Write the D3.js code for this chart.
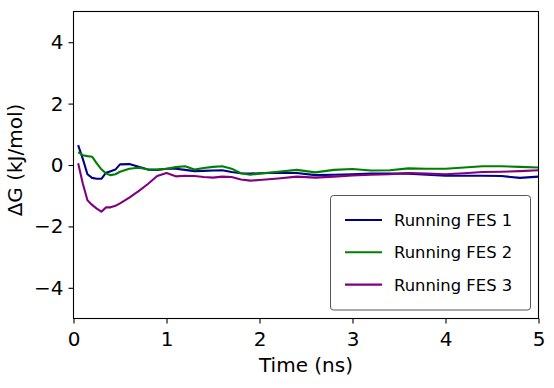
<!DOCTYPE html>
<html>
<head>
<meta charset="utf-8">
<script src="https://cdn.jsdelivr.net/npm/d3@7"></script>
<style>
  body { margin: 0; background: #fff; }
  svg text { font-family: "DejaVu Sans", sans-serif; fill: #000; }
</style>
</head>
<body>
<svg id="chartSVG" width="554" height="388"></svg>
<script>
// time (ns) and running free energy estimates (kJ/mol)
var times = [0.05, 0.1, 0.15, 0.2, 0.25, 0.3, 0.35, 0.4, 0.45, 0.5,
             0.6, 0.7, 0.8, 0.9, 1.0, 1.1, 1.2, 1.3, 1.4, 1.5,
             1.6, 1.7, 1.8, 1.9, 2.0, 2.2, 2.4, 2.6, 2.8, 3.0,
             3.2, 3.4, 3.6, 3.8, 4.0, 4.2, 4.4, 4.6, 4.8, 5.0];
var fes1 = [0.65, 0.2, -0.3, -0.42, -0.45, -0.45, -0.25, -0.2, -0.15, 0.02,
            0.03, -0.06, -0.15, -0.16, -0.12, -0.12, -0.16, -0.2, -0.19, -0.18,
            -0.17, -0.23, -0.27, -0.28, -0.27, -0.25, -0.26, -0.33, -0.32, -0.3,
            -0.28, -0.28, -0.28, -0.32, -0.35, -0.35, -0.35, -0.36, -0.42, -0.38];
var fes2 = [0.42, 0.32, 0.29, 0.27, 0.05, -0.14, -0.28, -0.33, -0.3, -0.22,
            -0.12, -0.09, -0.14, -0.15, -0.12, -0.07, -0.04, -0.15, -0.1, -0.06,
            -0.04, -0.12, -0.27, -0.32, -0.28, -0.22, -0.16, -0.24, -0.16, -0.13,
            -0.18, -0.17, -0.11, -0.12, -0.12, -0.08, -0.04, -0.04, -0.06, -0.08];
var fes3 = [0.06, -0.6, -1.15, -1.3, -1.42, -1.52, -1.38, -1.38, -1.33, -1.25,
            -1.06, -0.85, -0.62, -0.36, -0.26, -0.37, -0.35, -0.36, -0.39, -0.41,
            -0.38, -0.39, -0.47, -0.51, -0.49, -0.44, -0.38, -0.41, -0.38, -0.34,
            -0.32, -0.3, -0.26, -0.28, -0.3, -0.27, -0.23, -0.22, -0.2, -0.17];
var seriesNames = ["Running FES 1", "Running FES 2", "Running FES 3"];
var seriesColors = ["#00008b", "#008000", "#800080"];
var xTicks = [0, 1, 2, 3, 4, 5];
var yTicks = [-4, -2, 0, 2, 4];

var margin = {left: 73.5, top: 11.5, right: 538.5, bottom: 318.5};

var xScale = d3.scaleLinear().domain([0, 5]).range([margin.left, margin.right]);
var yScale = d3.scaleLinear().domain([-5, 5]).range([margin.bottom, margin.top]);

var svg = d3.select("#chartSVG");

var allSeries = [fes1, fes2, fes3];

var line = d3.line()
    .x(function(d, i){ return xScale(times[i]); })
    .y(function(d){ return yScale(d); });

// lines
svg.append("g").attr("class", "lines")
    .selectAll("path")
    .data(allSeries).enter()
    .append("path")
    .attr("d", line)
    .attr("fill", "none")
    .attr("stroke", function(d, i){ return seriesColors[i]; })
    .attr("stroke-width", 2.1)
    .attr("stroke-linejoin", "round");

// axes
var xAxis = svg.append("g")
    .attr("transform", "translate(0," + margin.bottom + ")")
    .call(d3.axisBottom(xScale).tickValues(xTicks).tickSize(5).tickPadding(8).tickFormat(d3.format("d")));
var yAxis = svg.append("g")
    .attr("transform", "translate(" + margin.left + ",0)")
    .call(d3.axisLeft(yScale).tickValues(yTicks).tickSize(5).tickPadding(5)
      .tickFormat(function(d){ return d < 0 ? "\u2212" + Math.abs(d) : d; }));

[xAxis, yAxis].forEach(function(a){
    a.select(".domain").remove();
    a.selectAll("line").attr("stroke", "#000").attr("stroke-width", 1.1);
    a.selectAll("text").attr("font-size", 20).attr("font-family", "DejaVu Sans, sans-serif").attr("fill", "#000");
});

// frame
svg.append("rect")
    .attr("x", margin.left).attr("y", margin.top)
    .attr("width", margin.right - margin.left)
    .attr("height", margin.bottom - margin.top)
    .attr("fill", "none").attr("stroke", "#000").attr("stroke-width", 1.1);

// axis labels
svg.append("text")
    .attr("x", (margin.left + margin.right) / 2).attr("y", 372)
    .attr("text-anchor", "middle").attr("font-size", 20)
    .text("Time (ns)");
svg.append("text")
    .attr("transform", "translate(22,160) rotate(-90)")
    .attr("text-anchor", "middle").attr("font-size", 20)
    .text("\u0394G (kJ/mol)");

// legend
var legend = svg.append("g").attr("class", "legend");
legend.append("rect")
    .attr("x", 330.5).attr("y", 195.5).attr("width", 200).attr("height", 114.5)
    .attr("rx", 3).attr("fill", "#fff").attr("stroke", "#555").attr("stroke-width", 1);
var rows = legend.selectAll(".row")
    .data(seriesNames).enter()
    .append("g")
    .attr("transform", function(d, i){ return "translate(0," + (220 + i * 32.3) + ")"; });
rows.append("line")
    .attr("x1", 345).attr("x2", 382)
    .attr("stroke", function(d, i){ return seriesColors[i]; })
    .attr("stroke-width", 2.1);
rows.append("text")
    .attr("x", 394).attr("y", 6)
    .attr("font-size", 16.4)
    .text(function(d){ return d; });
</script>
</body>
</html>
